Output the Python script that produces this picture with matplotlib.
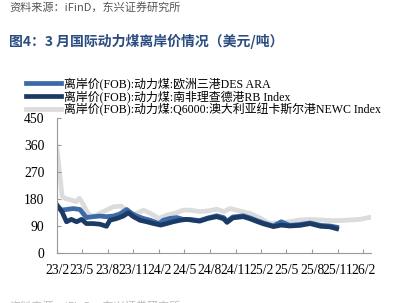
import matplotlib
matplotlib.use("Agg")
import matplotlib.pyplot as plt
import pandas as pd

plt.rcParams["font.family"] = ["Liberation Serif", "Noto Sans CJK SC", "DejaVu Sans"]

# --- data ---
newc_dates = ["2023-02-01", "2023-02-10", "2023-02-19", "2023-03-01", "2023-03-25",
              "2023-04-10", "2023-04-22", "2023-05-04", "2023-05-16", "2023-05-28",
              "2023-06-16", "2023-07-04", "2023-07-28", "2023-08-22", "2023-09-19",
              "2023-10-07", "2023-10-25", "2023-11-13", "2023-12-07", "2024-01-01",
              "2024-02-01", "2024-02-28", "2024-03-28", "2024-04-28", "2024-05-19",
              "2024-06-25", "2024-07-25", "2024-08-25", "2024-09-19", "2024-10-13",
              "2024-11-16", "2024-12-22", "2025-01-28", "2025-03-01", "2025-04-07",
              "2025-05-13", "2025-06-19", "2025-07-25", "2025-09-01", "2025-10-04",
              "2025-11-10", "2025-12-16", "2026-01-19", "2026-02-25"]
newc_vals = [345, 270, 190, 182, 176, 171, 182, 165, 143, 126,
             123, 132, 143, 154, 156, 143, 126, 132, 143, 132,
             115, 126, 132, 143, 143, 138, 140, 146, 138, 148,
             140, 132, 116, 99, 99, 104, 110, 112, 110, 108,
             108, 110, 112, 119]

ara_dates = ["2023-02-01", "2023-02-19", "2023-03-07", "2023-03-31", "2023-04-24",
             "2023-05-05", "2023-05-17", "2023-06-10", "2023-07-04", "2023-07-28",
             "2023-08-21", "2023-09-14", "2023-10-08", "2023-10-26", "2023-11-13",
             "2023-12-07", "2024-01-01", "2024-02-01", "2024-02-16", "2024-03-10",
             "2024-04-04", "2024-04-28", "2024-05-19", "2024-06-25", "2024-07-25",
             "2024-08-25", "2024-09-19", "2024-10-01", "2024-10-22", "2024-11-28",
             "2024-12-22", "2025-01-16", "2025-02-09", "2025-03-16", "2025-04-13",
             "2025-05-13", "2025-06-19", "2025-07-25", "2025-09-01", "2025-10-04",
             "2025-10-28"]
ara_vals = [154, 143, 145, 148, 145, 132, 118, 121, 123, 121,
            123, 130, 145, 132, 123, 115, 109, 98, 109, 115,
            118, 112, 112, 108, 117, 124, 118, 106, 120, 124,
            117, 108, 100, 90, 104, 92, 95, 100, 92, 90,
            86]

rb_dates = ["2023-02-01", "2023-02-19", "2023-03-07", "2023-03-24", "2023-04-12",
            "2023-04-30", "2023-05-17", "2023-06-10", "2023-07-04", "2023-07-28",
            "2023-08-09", "2023-09-03", "2023-09-26", "2023-10-14", "2023-11-01",
            "2023-11-25", "2023-12-19", "2024-01-13", "2024-02-07", "2024-02-28",
            "2024-03-22", "2024-04-16", "2024-05-10", "2024-06-25", "2024-07-25",
            "2024-08-25", "2024-09-19", "2024-10-01", "2024-10-22", "2024-11-28",
            "2024-12-22", "2025-01-16", "2025-02-09", "2025-03-16", "2025-04-13",
            "2025-05-13", "2025-06-19", "2025-07-25", "2025-09-01", "2025-10-04",
            "2025-10-28"]
rb_vals = [160, 137, 104, 112, 104, 112, 98, 98, 96, 89,
           109, 115, 123, 134, 121, 109, 104, 98, 93, 98,
           104, 109, 112, 106, 115, 121, 114, 102, 117, 121,
           114, 105, 97, 88, 93, 90, 92, 98, 89, 87,
           81]

tick_dates = ["2023-02-01", "2023-05-01", "2023-08-01", "2023-11-01", "2024-02-01",
              "2024-05-01", "2024-08-01", "2024-11-01", "2025-02-01", "2025-05-01",
              "2025-08-01", "2025-11-01", "2026-02-01"]
tick_labels = ["23/2", "23/5", "23/8", "23/11", "24/2", "24/5", "24/8", "24/11",
               "25/2", "25/5", "25/8", "25/11", "26/2"]

labels = ["离岸价(FOB):动力煤:欧洲三港DES ARA",
          "离岸价(FOB):动力煤:南非理查德港RB Index",
          "离岸价(FOB):动力煤:Q6000:澳大利亚纽卡斯尔港NEWC Index"]

fig = plt.figure(figsize=(3.94, 3.03), dpi=100)
ax = fig.add_axes([0.1447, 0.165, 0.797, 0.446])

ax.plot(pd.to_datetime(ara_dates), ara_vals, c="#3c6aa6", lw=3.4, label=labels[0])
ax.plot(pd.to_datetime(rb_dates), rb_vals, c="#1c3a66", lw=3.4, label=labels[1])
ax.plot(pd.to_datetime(newc_dates), newc_vals, c="#dcdcdc", lw=3.4, label=labels[2],
        zorder=1)

ax.set_ylim(0, 450)
ax.set_yticks([0, 90, 180, 270, 360, 450])
ax.set_xlim(pd.Timestamp("2023-02-01"), pd.Timestamp("2026-02-28"))
ax.set_xticks(pd.to_datetime(tick_dates))
ax.set_xticklabels(tick_labels)
ax.tick_params(direction="in", length=3, color="#999999", labelsize=9.8, pad=8)
ax.tick_params(axis="y", pad=9)
for s in ["top", "right"]:
    ax.spines[s].set_visible(False)
for s in ["left", "bottom"]:
    ax.spines[s].set_color("#999999")

ax.legend(loc="upper left", bbox_to_anchor=(0.065, 0.745), bbox_transform=fig.transFigure,
          frameon=False, fontsize=8.6, handlelength=3.0, handletextpad=0.2,
          labelspacing=0.0, borderaxespad=0, borderpad=0)

fig.text(0.025, 0.993, "资料来源：iFinD，东兴证券研究所", fontsize=8, color="#555555",
         style="italic", va="top", family=["Noto Sans CJK SC", "DejaVu Sans"])
fig.text(0.022, 0.862, "图4：3 月国际动力煤离岸价情况（美元/吨）", fontsize=10,
         color="#2b4c80", weight="bold", va="center",
         family=["Noto Sans CJK SC", "DejaVu Sans"])
fig.text(0.025, -0.03, "资料来源：iFinD，东兴证券研究所", fontsize=8, color="#bbbbbb",
         va="bottom", family=["Noto Sans CJK SC", "DejaVu Sans"])

fig.savefig("out.png", dpi=100)
